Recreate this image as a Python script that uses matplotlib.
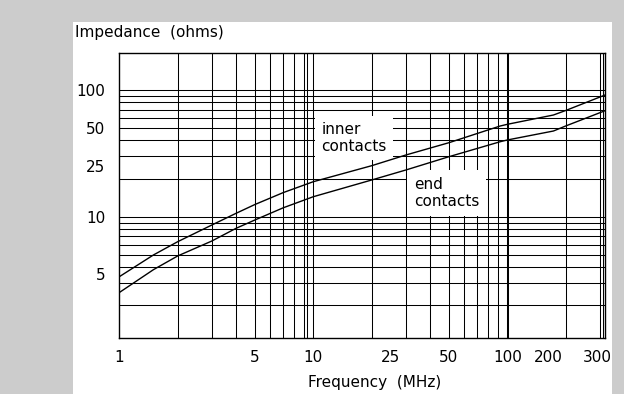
import matplotlib
matplotlib.use("Agg")
import matplotlib.pyplot as plt
from matplotlib.patches import Rectangle

# ---- data ----
freq_mhz = [1, 1.5, 2, 3, 4, 5, 7, 10, 20, 30, 50, 92, 100, 173, 200, 319]
inner_contacts = [3.36, 4.99, 6.35, 8.60, 10.64, 12.48, 15.5, 18.89, 25.27, 30.69, 38.37, 52.0, 53.6, 63.5, 68.9, 91.3]
end_contacts = [2.52, 3.82, 4.90, 6.43, 8.10, 9.42, 11.76, 14.38, 19.49, 23.37, 29.75, 39.08, 40.32, 47.47, 52.0, 68.64]

x_grid = [2, 3, 4, 5, 6, 7, 8, 9, 9.25, 10, 20, 30, 40, 50, 60, 70, 80, 90, 100, 101.2, 200, 300, 310]
y_grid = [2, 3, 4, 5, 6, 7, 8, 9, 10, 20, 30, 40, 50, 60, 70, 80, 90, 100]

x_tick_pos = [1, 5, 10, 25, 50, 100, 162, 290]
x_tick_labels = ["1", "5", "10", "25", "50", "100", "200", "300"]
y_tick_pos = [100, 50, 25, 10, 3.5]
y_tick_labels = ["100", "50", "25", "10", "5"]

x_limits = (1, 319)
y_limits = (1.103, 194.9)

plt.rcParams['font.family'] = ['DejaVu Sans']

W, H = 624, 394
fig = plt.figure(figsize=(W / 100, H / 100), dpi=100)
fig.patch.set_facecolor('#cccccc')
fig.patches.append(Rectangle((73 / W, 0), (612 - 73) / W, (H - 22) / H,
                             transform=fig.transFigure, facecolor='white',
                             edgecolor='none', zorder=-10))

ax = fig.add_axes([119.3 / W, 1 - 338 / H, (605 - 119.3) / W, (338 - 53.3) / H])
ax.set_facecolor('white')
ax.set_xscale('log')
ax.set_yscale('log')
ax.set_xlim(*x_limits)
ax.set_ylim(*y_limits)

for xv in x_grid:
    ax.axvline(xv, color='black', lw=0.75, zorder=1)
for yv in y_grid:
    ax.axhline(yv, color='black', lw=0.75, zorder=1)

ax.plot(freq_mhz, inner_contacts, color='black', lw=1.0, zorder=4)
ax.plot(freq_mhz, end_contacts, color='black', lw=1.0, zorder=4)

ax.text(11.0, 41.8, "inner\ncontacts", ha='left', va='center', fontsize=11,
        linespacing=1.15, zorder=3,
        bbox=dict(facecolor='white', edgecolor='none', pad=4.5))
ax.text(33.0, 15.4, "end\ncontacts", ha='left', va='center', fontsize=11,
        linespacing=1.15, zorder=3,
        bbox=dict(facecolor='white', edgecolor='none', pad=5))

ax.xaxis.set_minor_locator(matplotlib.ticker.NullLocator())
ax.yaxis.set_minor_locator(matplotlib.ticker.NullLocator())
ax.set_xticks(x_tick_pos)
ax.set_xticklabels(x_tick_labels)
ax.set_yticks(y_tick_pos)
ax.set_yticklabels(y_tick_labels)
ax.tick_params(axis='both', length=0, labelsize=11)
ax.tick_params(axis='x', pad=9)
ax.tick_params(axis='y', pad=10)

for s in ax.spines.values():
    s.set_color('black')
    s.set_linewidth(1.0)
    s.set_zorder(5)

fig.text(75 / W, 1 - 33 / H, "Impedance  (ohms)", ha='left', va='center', fontsize=11)
fig.text(375 / W, 1 - 383 / H, "Frequency  (MHz)", ha='center', va='center', fontsize=11)

fig.savefig("out.png", dpi=100, facecolor=fig.get_facecolor())
